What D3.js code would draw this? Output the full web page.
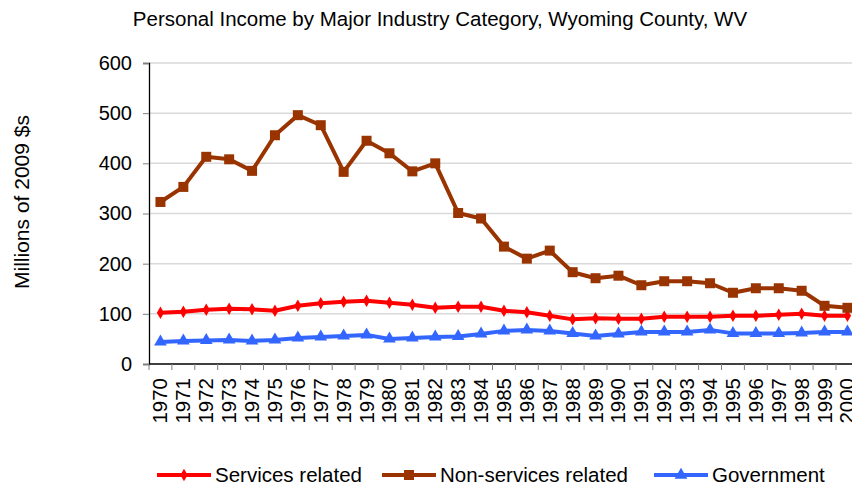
<!DOCTYPE html>
<html>
<head>
<meta charset="utf-8">
<script src="https://cdn.jsdelivr.net/npm/d3@7"></script>
<style>
  body { margin: 0; background: #fff; }
  svg { display: block; font-family: "Liberation Sans", Arial, sans-serif; }
</style>
</head>
<body>
<svg width="852" height="486"></svg>
<script>
// data
const years = d3.range(1970, 2001).map(String);
const services = [102, 104, 108, 110, 109, 106, 116, 121, 124, 126, 122, 118, 112, 114, 114, 106,
                  103, 96, 89, 91, 90, 90, 94, 94, 94, 96, 96, 98, 100, 96, 96];
const nonServices = [323, 353, 413, 408, 385, 456, 496, 476, 383, 445, 420, 384, 400, 301, 290, 234,
                     210, 226, 183, 171, 176, 157, 165, 165, 161, 142, 151, 151, 146, 116, 112];
const government = [44, 46, 47, 48, 46, 48, 52, 54, 56, 58, 50, 52, 54, 55, 60, 66,
                    68, 66, 61, 56, 60, 64, 64, 64, 68, 61, 61, 61, 62, 64, 64];
const yTicks = [0, 100, 200, 300, 400, 500, 600];

const series = [
  {name: "Services related", values: services, color: "#ff0000", symbol: d3.symbolDiamond, size: 45},
  {name: "Non-services related", values: nonServices, color: "#993300", symbol: d3.symbolSquare, size: 100},
  {name: "Government", values: government, color: "#3366ff", symbol: d3.symbolTriangle, size: 70}
];

const svg = d3.select("svg");
const plotLeft = 149, plotTop = 63, plotBottom = 364, bandW = 22.9;

const x = d3.scaleBand().domain(years).range([plotLeft, plotLeft + bandW * years.length]).padding(0);
const y = d3.scaleLinear().domain([0, 600]).range([plotBottom, plotTop]);

// gridlines
svg.append("g").selectAll("line")
  .data(yTicks.slice(1))
  .enter().append("line")
  .attr("x1", plotLeft).attr("x2", 852)
  .attr("y1", d => y(d)).attr("y2", d => y(d))
  .attr("stroke", "#d9d9d9").attr("stroke-width", 1.5);

// y axis
const yAxis = svg.append("g")
  .attr("transform", `translate(${plotLeft},0)`)
  .call(d3.axisLeft(y).tickValues(yTicks).tickSize(6).tickPadding(11));
yAxis.select(".domain").attr("stroke", "#000").attr("stroke-width", 1.3);
yAxis.selectAll(".tick line").attr("stroke", "#7f7f7f");
yAxis.selectAll("text").attr("font-size", 20).attr("fill", "#000");

// x axis
svg.append("line")
  .attr("x1", plotLeft).attr("x2", 852).attr("y1", plotBottom).attr("y2", plotBottom)
  .attr("stroke", "#000").attr("stroke-width", 1.3);
const edges = years.map(d => x(d)).concat([x(years[years.length - 1]) + x.bandwidth()]);
svg.append("g").selectAll("line")
  .data(edges)
  .enter().append("line")
  .attr("x1", d => d).attr("x2", d => d)
  .attr("y1", plotBottom).attr("y2", plotBottom + 6)
  .attr("stroke", "#7f7f7f");
svg.append("g").selectAll("text")
  .data(years)
  .enter().append("text")
  .attr("transform", d => `translate(${x(d) + x.bandwidth() / 2 + 7},${plotBottom + 14}) rotate(-90)`)
  .attr("text-anchor", "end")
  .attr("font-size", 20.5)
  .text(d => d);

// lines + markers
const line = d3.line()
  .x((d, i) => x(years[i]) + x.bandwidth() / 2)
  .y(d => y(d));

series.forEach(s => {
  const g = svg.append("g");
  g.append("path")
    .datum(s.values)
    .attr("d", line)
    .attr("fill", "none")
    .attr("stroke", s.color)
    .attr("stroke-width", 4)
    .attr("stroke-linejoin", "round");
  g.selectAll(".mark")
    .data(s.values)
    .enter().append("path")
    .attr("class", "mark")
    .attr("d", d3.symbol().type(s.symbol).size(s.size))
    .attr("transform", (d, i) => `translate(${x(years[i]) + x.bandwidth() / 2},${y(d)})`)
    .attr("fill", s.color);
});

// title
svg.append("text")
  .attr("x", 440).attr("y", 26)
  .attr("text-anchor", "middle")
  .attr("font-size", 20.5)
  .text("Personal Income by Major Industry Category, Wyoming County, WV");

// y label
svg.append("text")
  .attr("transform", "translate(29,202) rotate(-90)")
  .attr("text-anchor", "middle")
  .attr("font-size", 21)
  .text("Millions of 2009 $s");

// legend
const legendX = [157, 382, 654];
series.forEach((s, i) => {
  const g = svg.append("g").attr("transform", `translate(${legendX[i]},475)`);
  g.append("line").attr("x1", 0).attr("x2", 54).attr("y1", 0).attr("y2", 0)
    .attr("stroke", s.color).attr("stroke-width", 4);
  g.append("path").attr("d", d3.symbol().type(s.symbol).size(s.size))
    .attr("transform", "translate(27,0)").attr("fill", s.color);
  g.append("text").attr("x", 58).attr("y", 7).attr("font-size", 20.5).text(s.name);
});
</script>
</body>
</html>
